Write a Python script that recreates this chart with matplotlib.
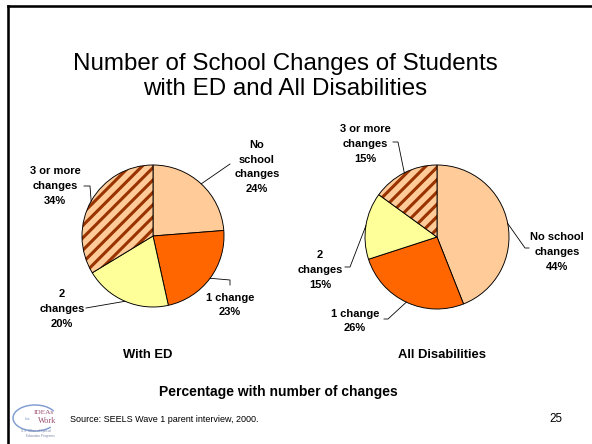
import matplotlib
matplotlib.use("Agg")
import numpy as np
import matplotlib.pyplot as plt
from matplotlib.patches import Wedge, Arc

plt.rcParams['font.family'] = ['Liberation Sans', 'DejaVu Sans']
plt.rcParams['hatch.linewidth'] = 3.0
plt.rcParams['hatch.color'] = '#993300'

# slice order: no change, 1, 2, 3+
categories = ['No school changes', '1 change', '2 changes', '3 or more changes']
ed_values = [24, 23, 20, 34]
all_values = [44, 26, 15, 15]
slice_colors = ['#FFCC99', '#FF6600', '#FFFF99', '#FFCC99']
stripe_color = '#993300'

ed_labels = [['No', 'school', 'changes'], ['1 change'], ['2', 'changes'], ['3 or more', 'changes']]
all_labels = [['No school', 'changes'], ['1 change'], ['2', 'changes'], ['3 or more', 'changes']]

title_lines = ['Number of School Changes of Students', 'with ED and All Disabilities']
group_titles = ['With ED', 'All Disabilities']
x_caption = 'Percentage with number of changes'
source_text = 'Source: SEELS Wave 1 parent interview, 2000.'
page_no = '25'

W, H, DPI = 592, 444, 74
fig = plt.figure(figsize=(W / DPI, H / DPI), dpi=DPI)
fig.patch.set_facecolor('white')

# pixel-space overlay for text, leaders and the slide frame
ov = fig.add_axes([0, 0, 1, 1])
ov.set_xlim(0, W)
ov.set_ylim(H, 0)
ov.axis('off')
ov.set_zorder(5)

LINE_STEP = 14.8
LABEL_SIZE = 10.8


def draw_pie(values, labels, center, radius, label_pos, leaders):
    cx, cy = center
    m = 1.05
    ax = fig.add_axes([(cx - radius * m) / W, (H - cy - radius * m) / H,
                       2 * radius * m / W, 2 * radius * m / H])
    wedges, _ = ax.pie(values, colors=slice_colors, startangle=90, counterclock=False,
                       wedgeprops=dict(edgecolor='black', linewidth=0.9))
    ax.set_xlim(-m, m)
    ax.set_ylim(-m, m)
    ax.set_aspect('equal')
    ax.axis('off')

    # striped slice for "3 or more"
    w = wedges[3]
    w.set_hatch('//')
    w.set_edgecolor(stripe_color)
    w.set_linewidth(0)
    ax.add_patch(Wedge(w.center, w.r, w.theta1, w.theta2, fill=False,
                       edgecolor='black', linewidth=0.9))

    for wd, val, lines, (lx, ly), bends in zip(wedges, values, labels, label_pos, leaders):
        mid = np.deg2rad((wd.theta1 + wd.theta2) / 2)
        ex, ey = cx + radius * np.cos(mid), cy - radius * np.sin(mid)
        xs = [ex] + [p[0] for p in bends]
        ys = [ey] + [p[1] for p in bends]
        ov.plot(xs, ys, color='black', lw=0.8)
        rows = lines + [f'{val}%']
        n = len(rows)
        for j, row in enumerate(rows):
            y = ly + (j - (n - 1) / 2) * LINE_STEP + 4
            ov.text(lx, y, row, ha='center', va='baseline', fontsize=LABEL_SIZE,
                    fontweight='bold')


draw_pie(ed_values, ed_labels, (153, 236), 71,
         [(257, 166), (230, 304), (62, 308), (55, 185)],
         [[(230, 164)],
          [(230, 280), (230, 285)],
          [(86, 308)],
          [(90, 186), (84, 186)]])

draw_pie(all_values, all_labels, (437, 237), 72,
         [(557, 251), (355, 320), (320, 269), (365, 143)],
         [[(525, 248), (529, 248)],
          [(388, 319), (384, 319)],
          [(350, 267), (345, 267)],
          [(398, 142), (393, 142)]])

# titles
ov.text(285, 70, title_lines[0], ha='center', va='baseline', fontsize=23.5)
ov.text(285, 95, title_lines[1], ha='center', va='baseline', fontsize=23.5)
ov.text(148, 358, group_titles[0], ha='center', va='baseline', fontsize=12.6, fontweight='bold')
ov.text(442, 358, group_titles[1], ha='center', va='baseline', fontsize=12.6, fontweight='bold')
ov.text(278, 396, x_caption, ha='center', va='baseline', fontsize=13.5, fontweight='bold')
ov.text(70, 422, source_text, ha='left', va='baseline', fontsize=8.8)
ov.text(556, 422, page_no, ha='center', va='baseline', fontsize=11.3)

# slide frame (left and top rules)
ov.plot([8, 8], [6, H], color='black', lw=2.5, solid_capstyle='projecting')
ov.plot([8, W], [6, 6], color='black', lw=2.5, solid_capstyle='projecting')

# small program logo
ov.add_patch(Arc((35, 418), 44, 26, theta1=30, theta2=340, color='#7f9bd0', lw=1.4))
ov.text(44, 414, 'IDEAs', ha='center', va='baseline', fontsize=7, color='#9a4f6f',
        family='Liberation Serif')
ov.text(28, 420, 'that', ha='center', va='baseline', fontsize=3.5, color='#7f9bd0',
        family='Liberation Serif')
ov.text(47, 423, 'Work', ha='center', va='baseline', fontsize=8, color='#9a4f6f',
        family='Liberation Serif')
ov.text(36, 432, 'U.S. Office of Special', ha='center', va='baseline', fontsize=3,
        color='#7a86a8')
ov.text(40, 437, 'Education Programs', ha='center', va='baseline', fontsize=3,
        color='#7a86a8')

fig.savefig('out.png', dpi=DPI, facecolor='white')
